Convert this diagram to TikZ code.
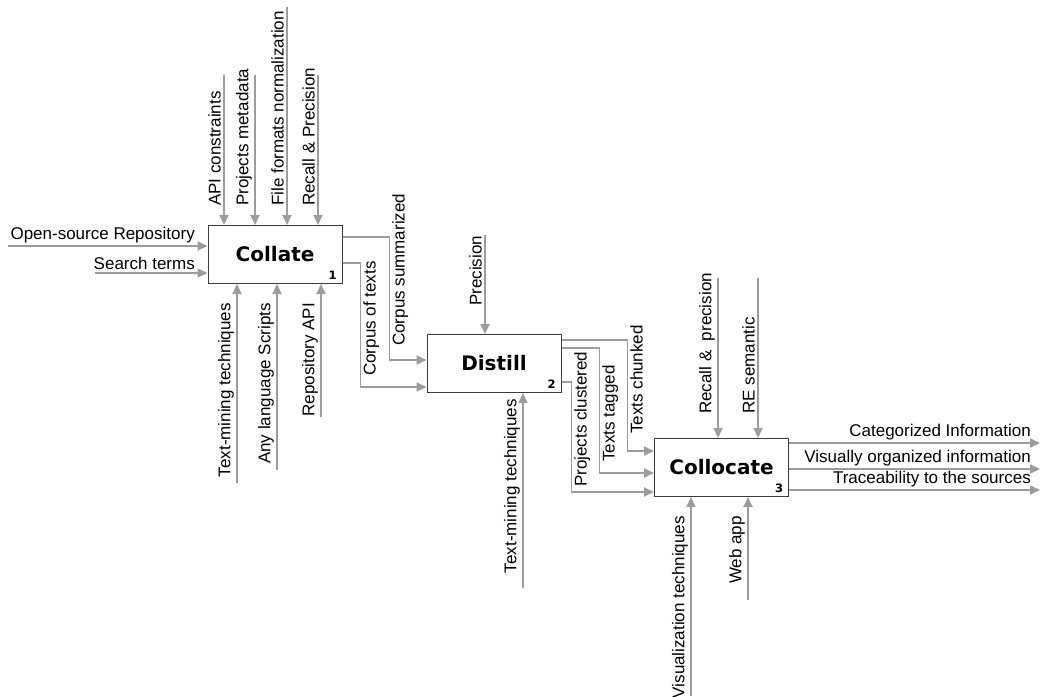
\documentclass[tikz,border=0pt]{standalone}
\usepackage{fontspec}
\setmainfont{Liberation Sans}
\newfontfamily\boxfont{DejaVu Sans}
\usetikzlibrary{arrows.meta}
\definecolor{flowgray}{HTML}{9C9C9C}
\definecolor{boxline}{HTML}{3A3A3A}
\tikzset{
  activity/.style={draw=boxline, line width=1pt, fill=white, minimum width=134pt, minimum height=58pt, inner sep=0pt, font=\boxfont\bfseries\fontsize{20}{24}\selectfont},
  flow/.style={draw=flowgray, line width=1.8pt, -{Triangle[length=10pt,width=9pt]}},
  arrowtext/.style={font=\fontsize{17}{20}\selectfont, inner sep=1pt},
  vtext/.style={arrowtext, rotate=90},
  boxnum/.style={font=\boxfont\bfseries\fontsize{11.5}{13}\selectfont, inner sep=0pt}
}
\begin{document}
\begin{tikzpicture}[x=1pt,y=-1pt]
\useasboundingbox (0,0) rectangle (1041,696);

% Collate
\node[activity] (collate) at (275,254.5) {Collate};
\node[boxnum] (num1) at ([xshift=-10pt,yshift=9pt]collate.south east) {1};

\coordinate (repo) at (8,246);
\coordinate (terms) at (95,273);
\draw[flow] (repo) -- (collate.west |- repo);
\draw[flow] (terms) -- (collate.west |- terms);
\node[arrowtext, anchor=south east] (lrepo) at (196,244) {Open-source Repository};
\node[arrowtext, anchor=south east] (lterms) at (196,271) {Search terms};

\foreach \n/\x/\y/\t in {api/224/75/API constraints, meta/255/75/Projects metadata,
  norm/287/7/File formats normalization, recall/318/75/Recall \& Precision}
{
    \coordinate (\n) at (\x,\y);
    \draw[flow] (\n) -- (\n |- collate.north);
    \node[vtext, anchor=south west] (l\n) at (\x-2,207) {\t};
}

\foreach \n/\x/\y/\t in {tm/237/483/Text-mining techniques, scripts/277/470/Any language Scripts,
  rapi/321/417/Repository API}
{
    \coordinate (\n) at (\x,\y);
    \draw[flow] (\n) -- (\n |- collate.south);
    \node[vtext, anchor=south east] (l\n) at (\x-2,302) {\t};
}

% Distill
\node[activity] (distill) at (494,363.5) {Distill};
\node[boxnum] (num2) at ([xshift=-10pt,yshift=9pt]distill.south east) {2};

\draw[flow] ([yshift=17.5pt]collate.east) -- ++(47,0) |- ([yshift=3.5pt]distill.west);
\draw[flow] ([yshift=-8.5pt]collate.east) -- ++(18,0) |- ([yshift=-23.5pt]distill.west);
\node[vtext, anchor=north west] (lsum) at (391,347) {Corpus summarized};
\node[vtext, anchor=north west] (ltexts) at (362,377) {Corpus of texts};

\coordinate (prec) at (485,235);
\draw[flow] (prec) -- (prec |- distill.north);
\node[vtext, anchor=south west] (lprec) at (483,307) {Precision};

\coordinate (tm2) at (523,588);
\draw[flow] (tm2) -- (tm2 |- distill.south);
\node[vtext, anchor=south east] (ltm2) at (521,398) {Text-mining techniques};

% Collocate
\node[activity] (collocate) at (721.5,467.5) {Collocate};
\node[boxnum] (num3) at ([xshift=-10pt,yshift=9pt]collocate.south east) {3};

\draw[flow] ([yshift=23.5pt]distill.east) -- ++(66,0) |- ([yshift=16.5pt]collocate.west);
\draw[flow] ([yshift=15.5pt]distill.east) -- ++(38,0) |- ([yshift=-5.5pt]collocate.west);
\draw[flow] ([yshift=-18.5pt]distill.east) -- ++(10,0) |- ([yshift=-24.5pt]collocate.west);
\node[vtext, anchor=north west] (lchunk) at (629,435) {Texts chunked};
\node[vtext, anchor=north west] (ltag) at (601,463) {Texts tagged};
\node[vtext, anchor=north west] (lclust) at (573,488) {Projects clustered};

\coordinate (rp) at (718,278);
\coordinate (rese) at (758,278);
\draw[flow] (rp) -- (rp |- collocate.north);
\draw[flow] (rese) -- (rese |- collocate.north);
\node[vtext, anchor=south west] (lrp) at (716,415) {Recall \&~ precision};
\node[vtext, anchor=south west] (lrese) at (756,415) {RE semantic};

\coordinate (vis) at (691,696);
\coordinate (web) at (748,600);
\draw[flow] (vis) -- (vis |- collocate.south);
\draw[flow] (web) -- (web |- collocate.south);
\node[vtext, anchor=south east] (lvis) at (689,515) {Visualization techniques};
\node[vtext, anchor=south east] (lweb) at (746,515) {Web app};

\foreach \n/\s/\y/\t in {cat/24.5/443/Categorized Information, vis2/-1.5/469/Visually organized information,
  trace/-22.5/490/Traceability to the sources}
{
    \coordinate (\n) at (1040,\y);
    \draw[flow] ([yshift=\s pt]collocate.east) -- (\n);
    \node[arrowtext, anchor=south east] (l\n) at (1032,\y-2) {\t};
}

\end{tikzpicture}
\end{document}
